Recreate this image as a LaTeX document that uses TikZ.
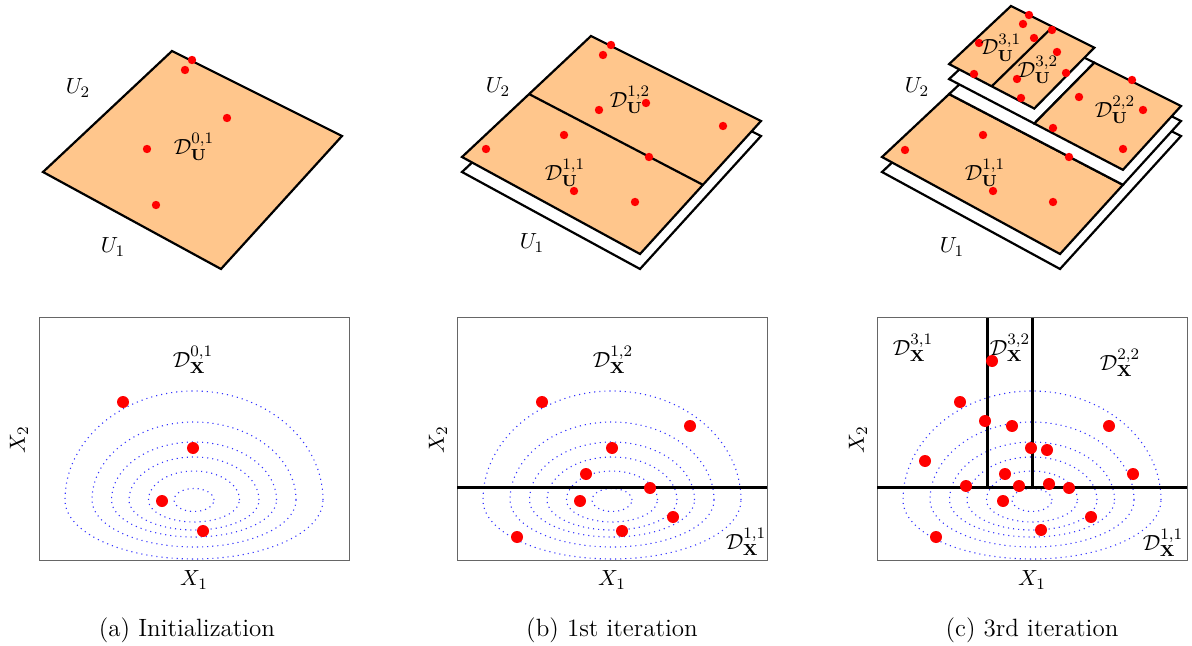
\documentclass[tikz,border=0pt]{standalone}
\usepackage{amsmath, amssymb}
\usepackage{xcolor}
\usepackage{tikz}
\usetikzlibrary{calc}

\begin{document}
\begin{tikzpicture}[x=0.5pt, y=-0.5pt, font=\fontsize{11}{13}\selectfont,
  sheet/.style={draw=black, line width=1.1pt},
  lifted/.style={sheet, fill=orange!45},
  blank/.style={sheet, fill=white},
  frame/.style={draw=black!60, line width=0.5pt},
  cut/.style={draw=black, line width=1.5pt},
  contour/.style={blue!80, dotted, line width=0.55pt},
  udot/.style={fill=red},
  xdot/.style={fill=red}]
  \useasboundingbox (0,0) rectangle (1192,646);

  % corners of the unit square, one set per panel and per lift level
  \foreach \p/\dx in {a/0, b/419, c/839} {
    \foreach \k in {0,...,3} {
      \coordinate (L\p\k) at ({43+\dx},{172-15*\k});
      \coordinate (T\p\k) at ({172+\dx},{51-15*\k});
      \coordinate (R\p\k) at ({342+\dx},{136-15*\k});
      \coordinate (B\p\k) at ({221+\dx},{269-15*\k});
      \coordinate (S\p\k) at ($(L\p\k)!0.52!(T\p\k)$);
      \coordinate (E\p\k) at ($(B\p\k)!0.52!(R\p\k)$);
      \coordinate (Q\p\k) at ($(S\p\k)!0.49!(E\p\k)$);
      \coordinate (P\p\k) at ($(T\p\k)!0.49!(R\p\k)$);
      \coordinate (H\p\k) at ($(S\p\k)!0.5!(Q\p\k)$);
      \coordinate (G\p\k) at ($(T\p\k)!0.5!(P\p\k)$);
    }
  }

  % (a) top
  \draw[lifted] (La0) -- (Ta0) -- (Ra0) -- (Ba0) -- cycle;
  \foreach \x/\y in {192/60, 185/70, 227/118, 147/149, 156/205}
    \fill[udot] (\x,\y) circle[radius=2.1pt];
  \node (du01) at (194,147) {$\mathcal{D}^{0,1}_{\mathbf{U}}$};
  \node (ua2) at (78,88) {$U_2$};
  \node (ua1) at (113,247) {$U_1$};

  % (b) top
  \draw[blank] (Lb0) -- (Tb0) -- (Rb0) -- (Bb0) -- cycle;
  \draw[lifted] (Lb1) -- (Tb1) -- (Rb1) -- (Bb1) -- cycle;
  \draw[sheet] (Sb1) -- (Eb1);
  \foreach \x/\y in {611/45, 603/55, 646/103, 599/110, 723/126, 564/135, 486/149, 649/157, 574/191, 635/202}
    \fill[udot] (\x,\y) circle[radius=2.1pt];
  \node (du12b) at (630,100) {$\mathcal{D}^{1,2}_{\mathbf{U}}$};
  \node (du11b) at (565,173) {$\mathcal{D}^{1,1}_{\mathbf{U}}$};
  \node (ub2) at (498,87) {$U_2$};
  \node (ub1) at (532,243) {$U_1$};

  % (c) top
  \draw[blank] (Lc0) -- (Tc0) -- (Rc0) -- (Bc0) -- cycle;
  \draw[lifted] (Lc1) -- (Sc1) -- (Ec1) -- (Bc1) -- cycle;
  \draw[blank] (Sc1) -- (Tc1) -- (Rc1) -- (Ec1) -- cycle;
  \draw[blank] (Sc2) -- (Tc2) -- (Pc2) -- (Qc2) -- cycle;
  \draw[lifted] (Qc2) -- (Pc2) -- (Rc2) -- (Ec2) -- cycle;
  \draw[lifted] (Sc3) -- (Tc3) -- (Pc3) -- (Qc3) -- cycle;
  \draw[sheet] (Hc3) -- (Gc3);
  \foreach \x/\y in {1029/15, 1023/24, 1052/30, 1034/38, 979/43, 1057/52, 1066/73, 1017/79, 974/74, 1021/98,
                     1132/80, 1079/97, 1143/110, 1053/128, 1123/149, 983/135, 905/150, 1069/157, 993/191, 1053/202}
    \fill[udot] (\x,\y) circle[radius=2.1pt];
  \node (du31) at (1001,48) {$\mathcal{D}^{3,1}_{\mathbf{U}}$};
  \node (du32) at (1038,70) {$\mathcal{D}^{3,2}_{\mathbf{U}}$};
  \node (du22) at (1115,110) {$\mathcal{D}^{2,2}_{\mathbf{U}}$};
  \node (du11c) at (985,173) {$\mathcal{D}^{1,1}_{\mathbf{U}}$};
  \node (uc2) at (917,87) {$U_2$};
  \node (uc1) at (952,247) {$U_1$};

  % bottom row: input space
  \foreach \cx in {194, 612, 1032} {
    \draw[frame] ({\cx-155},318) rectangle ({\cx+155},560);
    \foreach \a/\t/\b in {20/11.5/11.5, 45.5/29/22, 65/43/30, 82.5/58/37, 102/78/47, 129/109/59}
      \draw[contour] ({\cx+\a},500) arc[start angle=0, end angle=-180, x radius=\a, y radius=\t]
        arc[start angle=180, end angle=0, x radius=\a, y radius=\b];
  }

  % (a) bottom
  \foreach \x/\y in {123/402, 193/448, 162/501, 203/531}
    \fill[xdot] (\x,\y) circle[radius=3pt];
  \node (dx01) at (193,360) {$\mathcal{D}^{0,1}_{\mathbf{X}}$};
  \node (xa1) at (194,580) {$X_1$};
  \node[rotate=90] (xa2) at (19,440) {$X_2$};

  % (b) bottom
  \draw[cut] (457,487) -- (767,487);
  \foreach \x/\y in {542/402, 690/426, 612/448, 586/474, 650/488, 580/501, 673/517, 622/531, 517/537}
    \fill[xdot] (\x,\y) circle[radius=3pt];
  \node (dx12b) at (613,360) {$\mathcal{D}^{1,2}_{\mathbf{X}}$};
  \node (dx11b) at (746,542) {$\mathcal{D}^{1,1}_{\mathbf{X}}$};
  \node (xb1) at (612,580) {$X_1$};
  \node[rotate=90] (xb2) at (438,440) {$X_2$};

  % (c) bottom
  \draw[cut] (877,487) -- (1187,487);
  \draw[cut] (987,318) -- (987,487);
  \draw[cut] (1032,318) -- (1032,487);
  \foreach \x/\y in {992/361, 960/402, 985/421, 1012/426, 1109/426, 925/461, 1031/448, 1047/450, 1005/474,
                     1133/474, 966/486, 1019/486, 1049/484, 1069/488, 1003/501, 1091/517, 1041/530, 936/537}
    \fill[xdot] (\x,\y) circle[radius=3pt];
  \node (dx31) at (913,348) {$\mathcal{D}^{3,1}_{\mathbf{X}}$};
  \node (dx32) at (1010,348) {$\mathcal{D}^{3,2}_{\mathbf{X}}$};
  \node (dx22) at (1120,363) {$\mathcal{D}^{2,2}_{\mathbf{X}}$};
  \node (dx11c) at (1163,543) {$\mathcal{D}^{1,1}_{\mathbf{X}}$};
  \node (xc1) at (1032,580) {$X_1$};
  \node[rotate=90] (xc2) at (858,440) {$X_2$};

  % captions
  \node[font=\fontsize{12.5}{15}\selectfont] (capa) at (187,630) {(a) Initialization};
  \node[font=\fontsize{12.5}{15}\selectfont] (capb) at (612,630) {(b) 1st iteration};
  \node[font=\fontsize{12.5}{15}\selectfont] (capc) at (1032,630) {(c) 3rd iteration};
\end{tikzpicture}
\end{document}
